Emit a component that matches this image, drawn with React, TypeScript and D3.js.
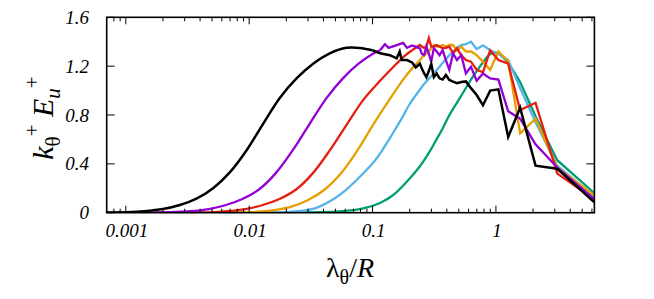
import React from 'react';
import * as d3 from 'd3';

type Pt = [number, number];

const xTicks = [0.001, 0.01, 0.1, 1];
const xTickLabels = ['0.001', '0.01', '0.1', '1'];
const yTicks = [0, 0.4, 0.8, 1.2, 1.6];
const yTickLabels = ['0', '0.4', '0.8', '1.2', '1.6'];
const xDomain = [0.0007, 6.2832];
const yDomain = [0, 1.6];

// smooth rising part of each spectrum (fine resolution)
const greenRise: Pt[] = [
  [0.0007, 0], [0.03, 0.002], [0.06, 0.015], [0.084, 0.036], [0.115, 0.08], [0.147, 0.145],
  [0.2, 0.28], [0.242, 0.38], [0.29, 0.5], [0.33, 0.6], [0.37, 0.69], [0.42, 0.8], [0.483, 0.9],
  [0.54, 0.98], [0.628, 1.09], [0.698, 1.16], [0.785, 1.23], [0.898, 1.3], [1.047, 1.31],
];
// coarse large-scale part (lambda = 2*pi/n)
const greenTail: Pt[] = [
  [1.047, 1.31], [1.257, 1.23], [1.571, 1.07], [2.094, 0.79], [3.1416, 0.43], [6.2832, 0.16],
];

const skyRise: Pt[] = [
  [0.0007, 0], [0.015, 0.002], [0.025, 0.012], [0.035, 0.04], [0.048, 0.11], [0.063, 0.2],
  [0.08, 0.3], [0.105, 0.43], [0.125, 0.54], [0.144, 0.64], [0.172, 0.77], [0.2, 0.89],
  [0.235, 0.99], [0.265, 1.06], [0.3, 1.12], [0.352, 1.2], [0.42, 1.29], [0.483, 1.35],
];
const skyTail: Pt[] = [
  [0.483, 1.35], [0.524, 1.373], [0.571, 1.38], [0.628, 1.4], [0.698, 1.34], [0.785, 1.37],
  [0.898, 1.33], [1.047, 1.3], [1.257, 1.25], [1.571, 1.02], [2.094, 0.74], [3.1416, 0.385],
  [6.2832, 0.13],
];

const orangeRise: Pt[] = [
  [0.0007, 0], [0.0079, 0.002], [0.0125, 0.01], [0.017, 0.025], [0.022, 0.05], [0.0295, 0.1],
  [0.041, 0.19], [0.0553, 0.32], [0.0755, 0.51], [0.101, 0.72], [0.138, 0.93], [0.18, 1.1],
  [0.213, 1.19], [0.242, 1.25], [0.262, 1.29], [0.286, 1.32],
];
const orangeTail: Pt[] = [
  [0.286, 1.32], [0.299, 1.346], [0.314, 1.373], [0.331, 1.36], [0.349, 1.36], [0.37, 1.373],
  [0.393, 1.36], [0.419, 1.373], [0.449, 1.373], [0.483, 1.33], [0.524, 1.36], [0.571, 1.32],
  [0.628, 1.32], [0.698, 1.29], [0.785, 1.237], [0.898, 1.17], [1.047, 1.32], [1.257, 1.24],
  [1.571, 0.65], [2.094, 0.77], [3.1416, 0.37], [6.2832, 0.14],
];

const redRise: Pt[] = [
  [0.0007, 0], [0.0047, 0.003], [0.0066, 0.012], [0.0093, 0.03], [0.0129, 0.063], [0.0174, 0.11],
  [0.024, 0.19], [0.0326, 0.32], [0.045, 0.51], [0.0625, 0.73], [0.085, 0.93], [0.115, 1.08],
  [0.14, 1.17], [0.18, 1.28], [0.209, 1.33],
];
const redTail: Pt[] = [
  [0.209, 1.33], [0.224, 1.35], [0.242, 1.373], [0.251, 1.36], [0.262, 1.35], [0.273, 1.36],
  [0.286, 1.43], [0.299, 1.36], [0.314, 1.36], [0.331, 1.373], [0.349, 1.36], [0.37, 1.346],
  [0.393, 1.35], [0.419, 1.36], [0.449, 1.305], [0.483, 1.346], [0.524, 1.29], [0.571, 1.25],
  [0.628, 1.237], [0.698, 1.17], [0.785, 1.15], [0.898, 1.33], [1.047, 1.25], [1.257, 1.22],
  [1.571, 0.84], [2.094, 0.9], [3.1416, 0.32], [6.2832, 0.11],
];

const purpleRise: Pt[] = [
  [0.0007, 0], [0.0023, 0.004], [0.0033, 0.012], [0.0047, 0.03], [0.0065, 0.063], [0.0087, 0.11],
  [0.012, 0.19], [0.0163, 0.32], [0.0225, 0.51], [0.031, 0.73], [0.0425, 0.94], [0.0575, 1.1],
  [0.077, 1.22], [0.1, 1.3], [0.115, 1.33],
];
const purpleTail: Pt[] = [
  [0.115, 1.33], [0.126, 1.38], [0.135, 1.35], [0.155, 1.37], [0.177, 1.39], [0.19, 1.35],
  [0.209, 1.37], [0.224, 1.36], [0.242, 1.346], [0.251, 1.3], [0.262, 1.29], [0.273, 1.36],
  [0.286, 1.3], [0.299, 1.237], [0.314, 1.346], [0.331, 1.32], [0.349, 1.29], [0.37, 1.33],
  [0.393, 1.25], [0.419, 1.17], [0.449, 1.305], [0.483, 1.25], [0.524, 1.29], [0.571, 1.14],
  [0.628, 1.195], [0.698, 1.08], [0.785, 1.14], [0.898, 1.1], [1.047, 1.09], [1.257, 0.83],
  [1.571, 0.77], [2.094, 0.56], [3.1416, 0.37], [6.2832, 0.11],
];

const blackRise: Pt[] = [
  [0.0007, 0], [0.001, 0.004], [0.0014, 0.012], [0.002, 0.03], [0.00274, 0.063], [0.00374, 0.115],
  [0.0051, 0.2], [0.00696, 0.33], [0.0095, 0.51], [0.013, 0.73], [0.0177, 0.94], [0.0242, 1.1],
  [0.033, 1.22], [0.045, 1.305], [0.0615, 1.35], [0.084, 1.345], [0.1, 1.33],
];
const blackTail: Pt[] = [
  [0.1, 1.33], [0.115, 1.305], [0.138, 1.29], [0.157, 1.264], [0.166, 1.32], [0.172, 1.25],
  [0.19, 1.25], [0.209, 1.23], [0.224, 1.19], [0.242, 1.22], [0.251, 1.18], [0.262, 1.14],
  [0.273, 1.11], [0.286, 1.16], [0.299, 1.22], [0.314, 1.11], [0.331, 1.14], [0.349, 1.1],
  [0.37, 1.09], [0.393, 1.128], [0.419, 1.087], [0.449, 1.073], [0.483, 1.06], [0.524, 1.07],
  [0.571, 1.075], [0.628, 1.02], [0.698, 0.964], [0.785, 0.88], [0.898, 1.0], [1.047, 1.01],
  [1.257, 0.62], [1.571, 0.86], [2.094, 0.385], [3.1416, 0.36], [6.2832, 0.085],
];

const riseList = [greenRise, skyRise, orangeRise, redRise, purpleRise, blackRise];
const tailList = [greenTail, skyTail, orangeTail, redTail, purpleTail, blackTail];
const seriesColors = ['#009e73', '#56b4e9', '#e69f00', '#e51e10', '#9400d3', '#000000'];

const W = 654;
const H = 299;
const left = 106.7;
const right = 594.4;
const top = 17.3;
const bottom = 212.7;

export default function App() {
  const x = d3.scaleLog().domain(xDomain).range([left, right]);
  const y = d3.scaleLinear().domain(yDomain).range([bottom, top]);
  const smooth = d3.line<Pt>().x(d => x(d[0])).y(d => y(d[1])).curve(d3.curveCatmullRom.alpha(0.5));
  const straight = d3.line<Pt>().x(d => x(d[0])).y(d => y(d[1]));

  const minor: number[] = [];
  for (let e = -4; e <= 1; e++) {
    for (let m = 2; m <= 9; m++) {
      const v = m * Math.pow(10, e);
      if (v > xDomain[0] * 1.001 && v < xDomain[1] * 0.999) minor.push(v);
    }
  }
  const font = "'Liberation Serif', 'DejaVu Serif', serif";

  return (
    <svg width={W} height={H} style={{ position: 'absolute', left: 0, top: 0, background: '#fff' }}>
      <defs>
        <clipPath id="plot">
          <rect x={left} y={top} width={right - left} height={bottom - top} />
        </clipPath>
      </defs>
      <g clipPath="url(#plot)" fill="none" strokeLinejoin="miter">
        {seriesColors.map((c, i) => (
          <g key={i} strokeWidth={i === 5 ? 2.5 : 2.3}>
            <path d={smooth(riseList[i]) || ''} stroke={c} />
            <path d={straight(tailList[i]) || ''} stroke={c} />
          </g>
        ))}
      </g>
      <g stroke="#000" strokeWidth={1}>
        {xTicks.map((t, i) => (
          <g key={'xt' + i}>
            <line x1={x(t)} x2={x(t)} y1={bottom} y2={bottom - 7} />
            <line x1={x(t)} x2={x(t)} y1={top} y2={top + 7} />
          </g>
        ))}
        {minor.map((t, i) => (
          <g key={'xm' + i}>
            <line x1={x(t)} x2={x(t)} y1={bottom} y2={bottom - 4} />
            <line x1={x(t)} x2={x(t)} y1={top} y2={top + 4} />
          </g>
        ))}
        {yTicks.map((t, i) => (
          <g key={'yt' + i}>
            <line x1={left} x2={left + 8} y1={y(t)} y2={y(t)} />
            <line x1={right} x2={right - 8} y1={y(t)} y2={y(t)} />
          </g>
        ))}
      </g>
      <rect x={left} y={top} width={right - left} height={bottom - top} fill="none" stroke="#000" strokeWidth={1.6} />
      <g fontFamily={font} fontStyle="italic" fontSize={19} fill="#000">
        {xTicks.map((t, i) => (
          <text key={'xl' + i} x={x(t) + 1} y={237} textAnchor="middle">{xTickLabels[i]}</text>
        ))}
        {yTicks.map((t, i) => (
          <text key={'yl' + i} x={89} y={y(t) + 6.5} textAnchor="end">{yTickLabels[i]}</text>
        ))}
      </g>
      <text x={350} y={277} textAnchor="middle" fontFamily={font} fontSize={28} fill="#000">
        <tspan>λ</tspan>
        <tspan fontSize={20} dy={7}>θ</tspan>
        <tspan dy={-7}>/</tspan>
        <tspan fontStyle="italic">R</tspan>
      </text>
      <text transform="translate(53,118) rotate(-90)" textAnchor="middle" fontFamily={font} fontSize={30} fill="#000">
        <tspan fontStyle="italic">k</tspan>
        <tspan fontSize={21} dy={7}>θ</tspan>
        <tspan fontSize={21} dy={-21}>+</tspan>
        <tspan dy={14}> </tspan>
        <tspan fontStyle="italic">E</tspan>
        <tspan fontSize={21} fontStyle="italic" dy={7}>u</tspan>
        <tspan fontSize={21} dy={-21}>+</tspan>
      </text>
    </svg>
  );
}
